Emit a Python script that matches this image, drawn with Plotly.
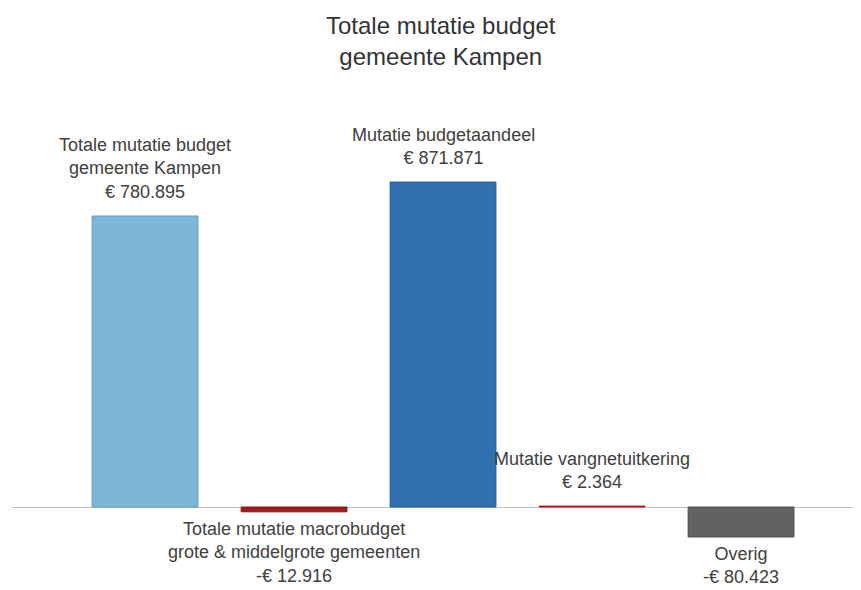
import plotly.graph_objects as go

categories = [
    "Totale mutatie budget<br>gemeente Kampen",
    "Totale mutatie macrobudget<br>grote & middelgrote gemeenten",
    "Mutatie budgetaandeel",
    "Mutatie vangnetuitkering",
    "Overig",
]
values = [780895, -12916, 871871, 2364, -80423]
value_labels = ["€ 780.895", "-€ 12.916", "€ 871.871", "€ 2.364", "-€ 80.423"]
colors = ["#7db6d9", "#9e1b1b", "#3170b0", "#c8191c", "#626262"]
line_colors = ["#5d9ec8", "#8a1515", "#245c9c", "#b01515", "#4a4a4a"]
title_text = "Totale mutatie budget<br>gemeente Kampen"

positions = list(range(len(categories)))

W, H = 853, 582
T, B = 92, 12

fig = go.Figure()
fig.add_trace(go.Bar(
    x=positions,
    y=values,
    width=0.71,
    marker=dict(color=colors, line=dict(color=line_colors, width=1)),
    hoverinfo="skip",
))

for p, cat, v, lab in zip(positions, categories, values, value_labels):
    pos = v >= 0
    fig.add_annotation(
        x=p, y=v, xref="x", yref="y",
        text=f"{cat}<br>{lab}",
        showarrow=False,
        yanchor="bottom" if pos else "top",
        yshift=12 if pos else -5,
        font=dict(family="Liberation Sans, Arial", size=18, color="#404040"),
        align="center",
    )

# chart title
fig.add_annotation(
    x=(433 - 4) / 849, y=1, xref="paper", yref="paper",
    xanchor="center", yanchor="middle",
    yshift=T - 33,
    text=title_text, showarrow=False, align="center",
    font=dict(family="Liberation Sans, Arial", size=24, color="#333333"),
)

fig.update_layout(
    width=W, height=H,
    paper_bgcolor="white", plot_bgcolor="white",
    margin=dict(l=4, r=0, t=T, b=B),
    showlegend=False,
    xaxis=dict(range=[-0.8926, 4.805], showticklabels=False, showgrid=False,
               zeroline=False, showline=False, ticks=""),
    yaxis=dict(range=[-190530, 1092170], showticklabels=False, showgrid=False,
               zeroline=True, zerolinecolor="#c0c0c0", zerolinewidth=1,
               showline=False, ticks=""),
)

fig.write_html("out.html")
